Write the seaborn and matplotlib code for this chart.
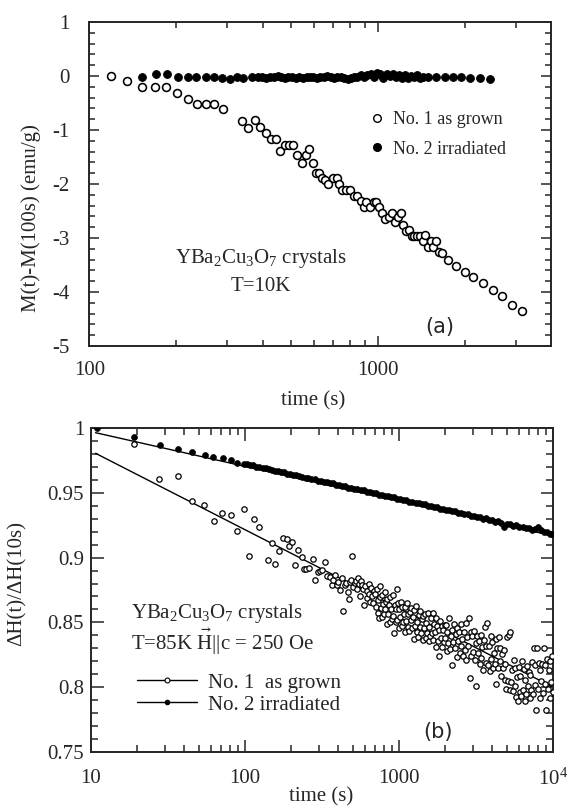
import matplotlib
matplotlib.use("Agg")
import matplotlib.pyplot as plt
import seaborn as sns
from matplotlib.lines import Line2D
from matplotlib.ticker import MultipleLocator, LogLocator, NullFormatter, FuncFormatter

# ---- panel (a): M(t)-M(100s), T = 10 K ----
t_a1 = [119, 135, 152, 169, 185, 202, 219, 237, 253, 270,
        290, 339, 356, 374, 391, 408, 426, 442, 457, 475,
        493, 510, 526, 545, 565, 577, 594, 611, 625, 640,
        655, 670, 698, 720, 735, 754, 778, 801, 825, 849,
        874, 894, 912, 938, 966, 988, 1012, 1030, 1060, 1091,
        1123, 1149, 1176, 1200, 1224, 1253, 1282, 1309, 1336, 1367,
        1399, 1428, 1457, 1490, 1525, 1556, 1589, 1626, 1664, 1753,
        1867, 2003, 2142, 2317, 2512, 2700, 2919, 3170]
m_a1 = [0.0, -0.09, -0.2, -0.2, -0.2, -0.32, -0.42, -0.52, -0.52, -0.52,
        -0.61, -0.83, -0.96, -0.82, -0.94, -1.05, -1.16, -1.16, -1.38, -1.27,
        -1.27, -1.27, -1.47, -1.61, -1.47, -1.36, -1.61, -1.80, -1.80, -1.89,
        -1.92, -2.0, -1.89, -1.89, -2.0, -2.11, -2.11, -2.12, -2.22, -2.22,
        -2.31, -2.43, -2.34, -2.43, -2.34, -2.34, -2.43, -2.53, -2.65, -2.61,
        -2.53, -2.71, -2.62, -2.53, -2.75, -2.87, -2.86, -2.96, -2.96, -2.96,
        -2.96, -3.06, -2.95, -3.17, -3.06, -3.17, -3.06, -3.26, -3.27, -3.40,
        -3.51, -3.63, -3.73, -3.83, -3.96, -4.08, -4.24, -4.36]

t_a2 = [152, 170, 186, 203, 219, 235, 253, 270, 289, 307,
        324, 341, 365, 385, 398, 410, 423, 436, 450, 463,
        477, 490, 505, 520, 535, 550, 566, 582, 598, 615,
        632, 650, 668, 686, 705, 724, 744, 764, 785, 806,
        828, 850, 873, 896, 920, 944, 969, 994, 1020, 1046,
        1073, 1100, 1128, 1156, 1185, 1214, 1244, 1274, 1305, 1337,
        1369, 1402, 1436, 1490, 1596, 1706, 1823, 1949, 2082, 2254,
        2455]
m_a2 = [-0.01, 0.03, 0.03, -0.02, -0.02, -0.02, -0.02, -0.02, -0.03, -0.05,
        -0.02, -0.03, -0.02, -0.02, -0.01, -0.03, -0.02, -0.02, 0.0, -0.02,
        -0.03, -0.02, -0.01, -0.03, -0.02, -0.04, -0.02, -0.01, -0.02, -0.03,
        -0.01, -0.02, 0.0, -0.02, -0.03, -0.01, -0.02, -0.04, -0.05, -0.03,
        -0.02, -0.01, 0.02, -0.02, 0.01, 0.03, -0.01, 0.05, 0.04, -0.03,
        0.03, 0.0, 0.04, -0.02, 0.02, -0.03, 0.01, -0.04, 0.0, -0.02,
        0.01, -0.04, -0.02, -0.01, -0.02, -0.01, -0.02, -0.02, -0.03, -0.03,
        -0.06]

# ---- panel (b): dH(t)/dH(10s), T = 85 K ----
# No. 1 as grown (open circles)
t_b1_early = [19.0, 27.6, 36.5, 45.5, 54.4, 62.6, 71.3, 80.8, 89.2, 98.1,
              106.7, 115, 123.4, 140.4, 150.4, 157.3, 166.3, 177.4, 187.5, 192.2,
              201, 210, 220, 233, 243]
h_b1_early = [0.9877, 0.9604, 0.9632, 0.9437, 0.9408, 0.9285, 0.9342, 0.9326, 0.9205, 0.9378,
              0.9015, 0.9295, 0.9238, 0.8981, 0.911, 0.8951, 0.9049, 0.9151, 0.9144, 0.9092,
              0.912, 0.8945, 0.9059, 0.9007, 0.891]

t_b1_mid = [250, 262, 275, 285, 296, 305, 315, 330, 342, 356,
            365, 374, 385, 394, 404, 414, 425, 435, 446, 455,
            466, 473, 480, 490, 497, 505, 515, 525, 532, 545,
            553, 560, 570, 578, 585, 596, 605, 615, 622, 635,
            642, 650, 660, 670, 680, 690]
h_b1_mid = [0.891, 0.8917, 0.899, 0.8827, 0.889, 0.8899, 0.8904, 0.8963, 0.886, 0.8848,
            0.879, 0.8827, 0.8865, 0.8789, 0.8812, 0.875, 0.8845, 0.859, 0.879, 0.8803,
            0.8735, 0.8678, 0.8812, 0.883, 0.9015, 0.877, 0.8805, 0.8822, 0.876, 0.884,
            0.8795, 0.870, 0.8818, 0.879, 0.876, 0.8634, 0.878, 0.8742, 0.869, 0.880,
            0.872, 0.866, 0.8765, 0.8705, 0.865, 0.8745]

t_b1_late = [702, 710, 718, 725, 733, 741, 749, 754, 762, 770,
             779, 787, 796, 805, 814, 823, 832, 841, 850, 860,
             869, 879, 889, 899, 909, 918, 929, 940, 950, 961,
             966, 972, 983, 994, 1005, 1016, 1028, 1039, 1051, 1063,
             1075, 1087, 1099, 1112, 1124, 1137, 1150, 1163, 1176, 1189,
             1203, 1216, 1230, 1244, 1258, 1272, 1287, 1301, 1316, 1331,
             1346, 1361, 1377, 1392, 1408, 1424, 1440, 1456, 1473, 1490,
             1506, 1524, 1541, 1558, 1576, 1594, 1612, 1630, 1649, 1667,
             1686, 1705, 1725, 1744, 1764, 1784, 1804, 1825, 1845, 1866,
             1888, 1909, 1931, 1953, 1975, 1997]
h_b1_late = [0.8720, 0.8617, 0.8755, 0.8572, 0.8669, 0.8536, 0.8694, 0.8781, 0.8608, 0.8715,
             0.8543, 0.8640, 0.8567, 0.8734, 0.8602, 0.8659, 0.8486, 0.8683, 0.8561, 0.8638,
             0.8695, 0.8502, 0.8600, 0.8527, 0.8714, 0.8551, 0.8419, 0.8636, 0.8503, 0.8601,
             0.8758, 0.8515, 0.8652, 0.8460, 0.8607, 0.8544, 0.8661, 0.8469, 0.8616, 0.8503,
             0.8561, 0.8428, 0.8615, 0.8512, 0.8650, 0.8467, 0.8564, 0.8431, 0.8579, 0.8516,
             0.8613, 0.8460, 0.8538, 0.8375, 0.8592, 0.8469, 0.8627, 0.8424, 0.8501, 0.8388,
             0.8556, 0.8463, 0.8590, 0.8417, 0.8525, 0.8362, 0.8549, 0.8457, 0.8564, 0.8381,
             0.8498, 0.8416, 0.8573, 0.8360, 0.8467, 0.8395, 0.8532, 0.8419, 0.8576, 0.8364,
             0.8491, 0.8428, 0.8536, 0.8313, 0.8470, 0.8357, 0.8445, 0.8242, 0.8509, 0.8376,
             0.8474, 0.8311, 0.8438, 0.8345, 0.8483, 0.8380]

t_b1_end = [2010, 2035, 2060, 2086, 2112, 2138, 2165, 2192, 2219, 2247,
            2275, 2303, 2332, 2361, 2390, 2420, 2450, 2481, 2512, 2543,
            2575, 2607, 2640, 2672, 2706, 2740, 2774, 2808, 2843, 2879,
            2915, 2951, 2988, 3025, 3063, 3101, 3140, 3179, 3219, 3259,
            3300, 3341, 3383, 3425, 3468, 3511, 3555, 3599, 3644, 3690,
            3736, 3782, 3830, 3877, 3926, 3975, 4025, 4075, 4126, 4177,
            4229, 4282, 4336, 4390, 4445, 4500, 4556, 4613, 4671, 4729,
            4788, 4848, 4909, 4970, 5032, 5095, 5159, 5223, 5289, 5355,
            5422, 5489, 5558, 5627, 5698, 5769, 5841, 5914, 5988, 6063,
            6139, 6215, 6293, 6372, 6451, 6532, 6614, 6696, 6780, 6865,
            6951, 7037, 7125, 7214, 7304, 7396, 7488, 7581, 7676, 7772,
            7869, 7967, 8067, 8168, 8270, 8373, 8478, 8584, 8691, 8800,
            8910, 9021, 9134, 9248, 9364, 9481, 9599, 9719, 9841, 9960]
h_b1_end = [0.8480, 0.8278, 0.8425, 0.8343, 0.8531, 0.8298, 0.8396, 0.8174, 0.8442, 0.8349,
            0.8487, 0.8305, 0.8413, 0.8230, 0.8458, 0.8356, 0.8424, 0.8261, 0.8489, 0.8317,
            0.8375, 0.8242, 0.8429, 0.8286, 0.8494, 0.8211, 0.8388, 0.8315, 0.8533, 0.8070,
            0.8427, 0.8244, 0.8392, 0.8269, 0.8436, 0.8213, 0.8341, 0.8008, 0.8395, 0.8262,
            0.8360, 0.8177, 0.8404, 0.8222, 0.8309, 0.8136, 0.8363, 0.8461, 0.8188, 0.8315,
            0.8493, 0.8170, 0.8318, 0.8125, 0.8393, 0.8220, 0.8348, 0.8145, 0.8263, 0.8180,
            0.8370, 0.8026, 0.8302, 0.8148, 0.8384, 0.8200, 0.8306, 0.8090, 0.8254, 0.8145,
            0.8290, 0.8055, 0.8180, 0.7985, 0.8390, 0.8045, 0.8400, 0.7980, 0.8425, 0.8040,
            0.8135, 0.7970, 0.8206, 0.8012, 0.8148, 0.7925, 0.8082, 0.7890, 0.8158, 0.7966,
            0.8084, 0.7932, 0.8200, 0.7978, 0.8137, 0.7896, 0.8055, 0.7945, 0.8166, 0.8007,
            0.8118, 0.7920, 0.8092, 0.7975, 0.8198, 0.7951, 0.8304, 0.8017, 0.8170, 0.7822,
            0.8304, 0.7986, 0.8188, 0.7920, 0.8132, 0.8044, 0.8176, 0.7958, 0.8300, 0.8022,
            0.8174, 0.7826, 0.8217, 0.7988, 0.8129, 0.7920, 0.8200, 0.8041, 0.8241, 0.7962]

# No. 2 irradiated (filled dots)
t_b2 = [10.9, 19.0, 28.1, 36.9, 45.5, 55, 62.3, 71.6, 80.7, 89, 99,
        103, 108, 113, 118, 124, 130, 136, 142, 149, 156,
        163, 171, 179, 187, 196, 205, 215, 225, 236, 247,
        258, 270, 283, 296, 310, 325, 340, 356, 373, 390,
        408, 427, 447, 468, 490, 513, 537, 562, 588, 616,
        645, 675, 706, 739, 774, 810, 848, 888, 929, 973,
        1018, 1066, 1116, 1168, 1222, 1280, 1340, 1402, 1468, 1536,
        1608, 1684, 1762, 1845, 1931, 2021, 2116, 2215, 2318, 2427,
        2540, 2659, 2783, 2913, 3050, 3192, 3342, 3498, 3661, 3833,
        4012, 4200, 4396, 4601, 4817, 5042, 5278, 5525, 5783, 6053,
        6337, 6633, 6943, 7268, 7608, 7964, 8336, 8726, 9134, 9561, 9900]
h_b2 = [1.0, 0.9928, 0.9869, 0.9838, 0.9812, 0.9794, 0.9779, 0.9766, 0.9753, 0.9733, 0.9725,
        0.9724, 0.9713, 0.9712, 0.9703, 0.9701, 0.9693, 0.9691, 0.9682, 0.9680, 0.9671,
        0.9669, 0.9660, 0.9659, 0.9649, 0.9648, 0.9638, 0.9637, 0.9628, 0.9626, 0.9617,
        0.9616, 0.9606, 0.9605, 0.9595, 0.9594, 0.9585, 0.9583, 0.9574, 0.9572, 0.9563,
        0.9562, 0.9552, 0.9551, 0.9541, 0.9540, 0.9530, 0.9529, 0.9520, 0.9518, 0.9509,
        0.9508, 0.9497, 0.9497, 0.9486, 0.9486, 0.9476, 0.9476, 0.9465, 0.9464, 0.9454,
        0.9454, 0.9443, 0.9443, 0.9432, 0.9432, 0.9421, 0.9421, 0.9410, 0.9410, 0.9399,
        0.9400, 0.9389, 0.9389, 0.9378, 0.9379, 0.9367, 0.9368, 0.9356, 0.9357, 0.9345,
        0.9347, 0.9334, 0.9336, 0.9323, 0.9325, 0.9312, 0.9314, 0.9301, 0.9303, 0.9290,
        0.9293, 0.9278, 0.9283, 0.9265, 0.9235, 0.9262, 0.9256, 0.9245, 0.9250, 0.9236,
        0.9240, 0.9225, 0.9230, 0.9214, 0.9222, 0.9235, 0.9212, 0.9196, 0.9200, 0.9186, 0.9180]

# straight-line fits (log t)
t_fit = [10.7, 10000]
h_fit1 = [0.9805, 0.800]
h_fit2 = [0.9964, 0.9168]

sns.set_style("ticks")
plt.rcParams['font.family'] = ['Liberation Serif', 'DejaVu Serif']
plt.rcParams['mathtext.fontset'] = 'custom'
plt.rcParams['mathtext.rm'] = 'Liberation Serif'
plt.rcParams['mathtext.default'] = 'regular'
plt.rcParams['axes.unicode_minus'] = False
plt.rcParams['axes.linewidth'] = 1.4

fig = plt.figure(figsize=(5.69, 8.09), dpi=100)
ax1 = fig.add_axes([0.157, 0.5723, 0.811, 0.4005])
ax2 = fig.add_axes([0.160, 0.0705, 0.812, 0.4004])

# panel (a)
sns.scatterplot(x=t_a1, y=m_a1, ax=ax1, marker='o', s=32, color='white',
                edgecolor='black', linewidth=1.15, zorder=3)
sns.scatterplot(x=t_a2, y=m_a2, ax=ax1, marker='o', s=32, color='black',
                edgecolor='black', linewidth=0.6, zorder=3)
ax1.set_xscale('log')
ax1.set_xlim(100, 3975)
ax1.set_ylim(-5, 1)
ax1.set_xticks([100, 1000])
ax1.set_xticklabels(['100', '1000'])
ax1.xaxis.set_minor_locator(LogLocator(base=10, subs=range(2, 10)))
ax1.xaxis.set_minor_formatter(NullFormatter())
ax1.yaxis.set_major_locator(MultipleLocator(1))
ax1.yaxis.set_minor_locator(MultipleLocator(0.2))
ax1.yaxis.set_major_formatter(FuncFormatter(lambda v, p: '%d' % round(v)))
ax1.tick_params(which='both', direction='in', top=True, right=True, width=1.1, labelsize=15)
ax1.tick_params(which='major', length=7)
ax1.tick_params(which='minor', length=4)
ax1.tick_params(axis='y', pad=14)
ax1.tick_params(axis='x', pad=11)
ax1.set_xlabel('time (s)', fontsize=15)
ax1.set_ylabel('M(t)-M(100s) (emu/g)', fontsize=15)
ax1.xaxis.set_label_coords(0.486, -0.139)
ax1.yaxis.set_label_coords(-0.105, 0.395)

ax1.text(0.372, 0.271, 'YBa$_2$Cu$_3$O$_7$ crystals', transform=ax1.transAxes,
         ha='center', va='center', fontsize=15)
ax1.text(0.372, 0.185, 'T=10K', transform=ax1.transAxes,
         ha='center', va='center', fontsize=15)
ax1.text(0.759, 0.06, '(a)', transform=ax1.transAxes, ha='center', va='center',
         fontsize=15, family='DejaVu Sans')

h_open = Line2D([], [], ls='none', marker='o', ms=5.5, mfc='white', mec='black', mew=1.0)
h_fill = Line2D([], [], ls='none', marker='o', ms=5.5, mfc='black', mec='black')
ax1.legend([h_open, h_fill], ['No. 1 as grown', 'No. 2 irradiated'],
           loc='upper left', bbox_to_anchor=(0.603, 0.725), frameon=False,
           fontsize=13, handlelength=1.0, handletextpad=0.4, labelspacing=0.7,
           borderpad=0, borderaxespad=0)

# panel (b)
sns.lineplot(x=t_fit, y=h_fit1, ax=ax2, color='black', linewidth=1.0, zorder=2)
sns.lineplot(x=t_fit, y=h_fit2, ax=ax2, color='black', linewidth=1.0, zorder=2)
for tt, hh in [(t_b1_early, h_b1_early), (t_b1_mid, h_b1_mid),
               (t_b1_late, h_b1_late), (t_b1_end, h_b1_end)]:
    sns.scatterplot(x=tt, y=hh, ax=ax2, marker='o', s=15, color='white',
                    edgecolor='black', linewidth=0.9, zorder=3)
sns.scatterplot(x=t_b2, y=h_b2, ax=ax2, marker='o', s=18, color='black',
                edgecolor='black', linewidth=0.5, zorder=4)
ax2.set_xscale('log')
ax2.set_xlim(10, 10000)
ax2.set_ylim(0.75, 1.0)
ax2.set_xticks([10, 100, 1000, 10000])
ax2.set_xticklabels(['10', '100', '1000', '10$^4$'])
ax2.xaxis.set_minor_locator(LogLocator(base=10, subs=range(2, 10)))
ax2.xaxis.set_minor_formatter(NullFormatter())
ax2.yaxis.set_major_locator(MultipleLocator(0.05))
ax2.yaxis.set_minor_locator(MultipleLocator(0.01))
ax2.yaxis.set_major_formatter(FuncFormatter(lambda v, p: '%g' % round(v, 2)))
ax2.tick_params(which='both', direction='in', top=True, right=True, width=1.1, labelsize=15)
ax2.tick_params(which='major', length=9)
ax2.tick_params(which='minor', length=5)
ax2.tick_params(axis='y', pad=5)
ax2.tick_params(axis='x', pad=12)
ax2.set_xlabel('time (s)', fontsize=15)
ax2.set_ylabel('ΔH(t)/ΔH(10s)', fontsize=15)
ax2.xaxis.set_label_coords(0.498, -0.108)
ax2.yaxis.set_label_coords(-0.139, 0.52)

ax2.text(0.0866, 0.429, 'YBa$_2$Cu$_3$O$_7$ crystals', transform=ax2.transAxes,
         ha='left', va='center', fontsize=15)
ax2.text(0.0866, 0.340, r'T=85K $\vec{H}$||c = 250 Oe', transform=ax2.transAxes,
         ha='left', va='center', fontsize=15)
ax2.text(0.751, 0.063, '(b)', transform=ax2.transAxes, ha='center', va='center',
         fontsize=15, family='DejaVu Sans')

l_open = Line2D([], [], color='black', lw=1.0, marker='o', ms=3.5, mfc='white', mec='black', mew=0.8)
l_fill = Line2D([], [], color='black', lw=1.0, marker='o', ms=3.0, mfc='black', mec='black')
ax2.legend([l_open, l_fill], ['No. 1  as grown', 'No. 2 irradiated'],
           loc='upper left', bbox_to_anchor=(0.0996, 0.244), frameon=False,
           fontsize=15, handlelength=2.9, handletextpad=0.5, labelspacing=0.12,
           borderpad=0, borderaxespad=0)

fig.savefig('out.png', dpi=100)
